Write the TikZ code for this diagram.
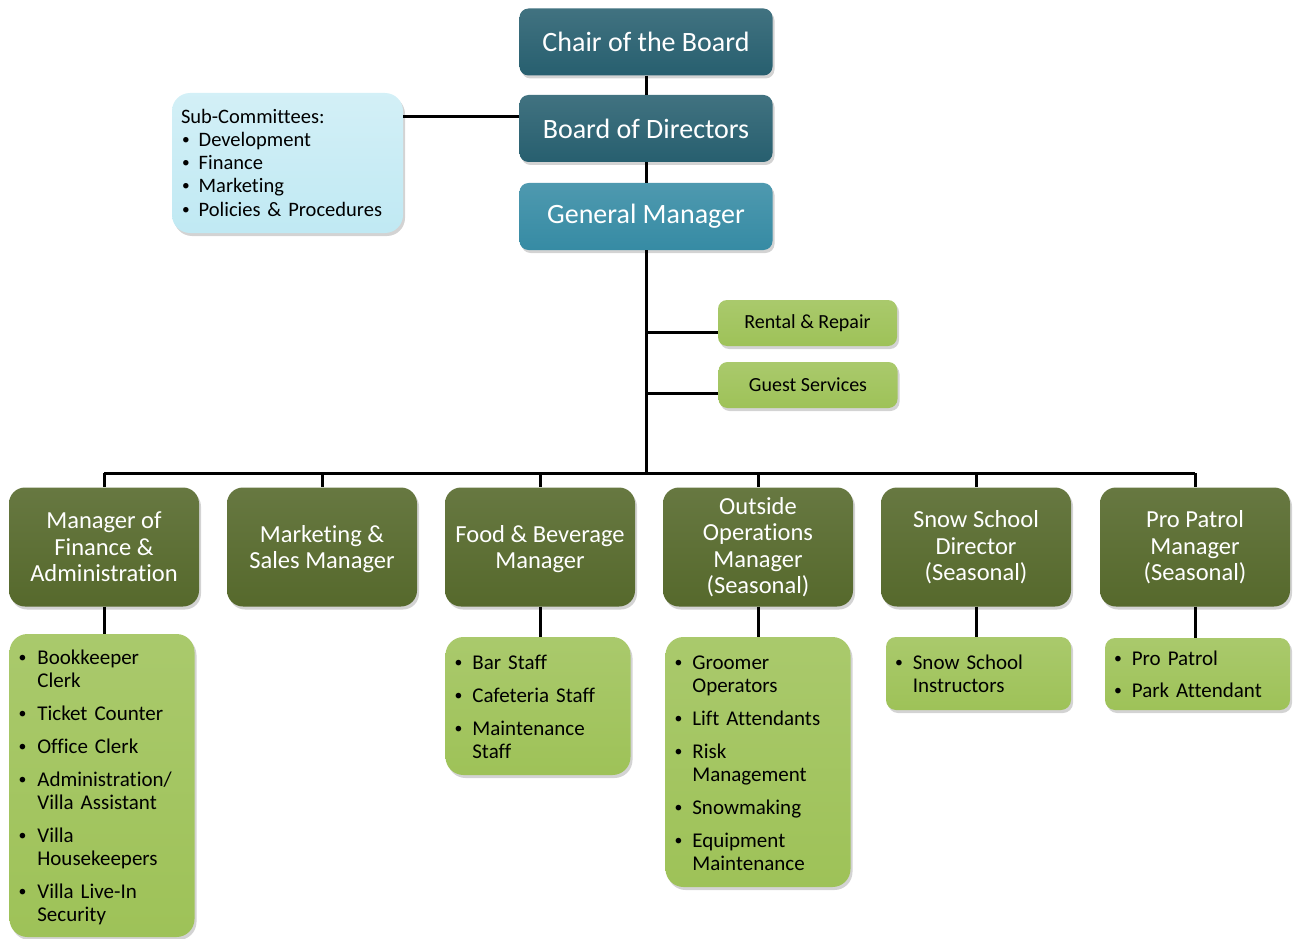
\documentclass[tikz,border=0pt]{standalone}
\usepackage{fontspec}
\setmainfont{Carlito}[Ligatures=NoCommon]
\usetikzlibrary{shadows}

\definecolor{boardteal}{RGB}{39,95,111}
\definecolor{gmteal}{RGB}{54,139,164}
\definecolor{skyfill}{RGB}{192,233,243}
\definecolor{olive}{RGB}{86,105,44}
\definecolor{lime}{RGB}{158,194,88}

\newcommand{\blt}{\raisebox{0.1em}{\scalebox{0.75}{\textbullet}}}

\begin{document}
\begin{tikzpicture}[%
      x=1pt, y=-1pt,
      wire/.style={line width=3pt},
      shade/.style={drop shadow={opacity=0.35,shadow xshift=2pt,shadow yshift=-3pt}},
      topbox/.style={shade, rounded corners=9pt, minimum width=253pt, minimum height=67pt,
        inner sep=2pt, align=center, text=white, font=\fontsize{28}{32}\selectfont},
      mgrbox/.style={shade, rounded corners=16pt, minimum width=190pt, minimum height=119pt,
        inner sep=2pt, align=center, text=white, font=\fontsize{24.5}{26.5}\selectfont,
        top color=olive!90!white, bottom color=olive},
      listbox/.style={shade, rounded corners=18pt, minimum width=185pt, inner xsep=9pt,
        text width=167pt, align=left, font=\fontsize{21}{23}\selectfont,
        top color=lime!88!white, bottom color=lime},
      sidebox/.style={shade, rounded corners=9pt, minimum width=179pt, minimum height=46pt,
        inner sep=2pt, align=center, font=\fontsize{20}{24}\selectfont,
        top color=lime!88!white, bottom color=lime},
      ]
      \useasboundingbox (0,0) rectangle (1294,939);

      \node[topbox, top color=boardteal!88!white, bottom color=boardteal] (chair) at (646,42) {Chair of the Board};
      \node[topbox, top color=boardteal!88!white, bottom color=boardteal] (board) at (646,128.5) {Board of Directors};
      \node[topbox, top color=gmteal!88!white, bottom color=gmteal] (gm) at (646,216.5) {General Manager};

      \node[shade, rounded corners=18pt, minimum width=231pt, minimum height=140pt, inner xsep=9pt,
        text width=213pt, align=left, top color=skyfill!70!white, bottom color=skyfill,
        font=\fontsize{20.5}{23.3}\selectfont] (subcom) at (287.5,163) {%
        \raisebox{-2pt}[\height][\depth]{\begin{tabular}{@{}l@{\hspace{9pt}}l@{}}
        \multicolumn{2}{@{}l@{}}{Sub-Committees:}\\
        \hspace{1pt}\blt & Development\\
        \hspace{1pt}\blt & Finance\\
        \hspace{1pt}\blt & Marketing\\
        \hspace{1pt}\blt & Policies \& Procedures
        \end{tabular}}};

      \node[sidebox] (rental) at (807.5,323) {Rental \& Repair};
      \node[sidebox] (guest) at (808,385) {Guest Services};

      \node[mgrbox] (fin) at (104,547) {Manager of\\Finance \&\\Administration};
      \node[mgrbox] (mkt) at (322,547) {\raisebox{-3pt}[\height][\depth]{\begin{tabular}{@{}c@{}}Marketing \&\\Sales Manager\end{tabular}}};
      \node[mgrbox] (fnb) at (540,547) {\raisebox{-3pt}[\height][\depth]{\begin{tabular}{@{}c@{}}Food \& Beverage\\Manager\end{tabular}}};
      \node[mgrbox] (ops) at (758,547) {Outside\\Operations\\Manager\\(Seasonal)};
      \node[mgrbox] (snow) at (976,547) {\raisebox{-2pt}[\height][\depth]{\begin{tabular}{@{}c@{}}Snow School\\Director\\(Seasonal)\end{tabular}}};
      \node[mgrbox] (patrol) at (1195,547) {\raisebox{-2pt}[\height][\depth]{\begin{tabular}{@{}c@{}}Pro Patrol\\Manager\\(Seasonal)\end{tabular}}};

      \node[listbox, minimum height=303pt] (finlist) at (102,785.5) {%
        \raisebox{-3pt}[\height][\depth]{\begin{tabular}{@{}l@{\hspace{11pt}}l@{}}
        \blt & Bookkeeper\\ & Clerk\\[10pt]
        \blt & Ticket Counter\\[10pt]
        \blt & Office Clerk\\[10pt]
        \blt & Administration/\\ & Villa Assistant\\[10pt]
        \blt & Villa\\ & Housekeepers\\[10pt]
        \blt & Villa Live-In\\ & Security
        \end{tabular}}};
      \node[listbox, minimum height=138pt] (fnblist) at (538,706) {%
        \raisebox{-3pt}[\height][\depth]{\begin{tabular}{@{}l@{\hspace{10pt}}l@{}}
        \blt & Bar Staff\\[10pt]
        \blt & Cafeteria Staff\\[10pt]
        \blt & Maintenance\\ & Staff
        \end{tabular}}};
      \node[listbox, minimum height=250pt] (opslist) at (758,762) {%
        \raisebox{-3pt}[\height][\depth]{\begin{tabular}{@{}l@{\hspace{10pt}}l@{}}
        \blt & Groomer\\ & Operators\\[10pt]
        \blt & Lift Attendants\\[10pt]
        \blt & Risk\\ & Management\\[10pt]
        \blt & Snowmaking\\[10pt]
        \blt & Equipment\\ & Maintenance
        \end{tabular}}};
      \node[listbox, minimum height=73pt, rounded corners=10pt] (snowlist) at (978.5,673.5) {%
        \raisebox{-3pt}[\height][\depth]{\begin{tabular}{@{}l@{\hspace{10pt}}l@{}}
        \blt & Snow School\\ & Instructors
        \end{tabular}}};
      \node[listbox, minimum height=72pt, rounded corners=10pt] (patrollist) at (1197.5,674) {%
        \raisebox{-3pt}[\height][\depth]{\begin{tabular}{@{}l@{\hspace{10pt}}l@{}}
        \blt & Pro Patrol\\[9pt]
        \blt & Park Attendant
        \end{tabular}}};

      \coordinate (bus) at (646,473);

      \draw[wire] (chair.south) -- (board.north);
      \draw[wire] (board.south) -- (gm.north);
      \draw[wire] ([yshift=12pt]board.west) -- ([yshift=12pt]board.west -| subcom.east);
      \draw[wire] (gm.south) -- (gm.south |- bus);
      \draw[wire] ([yshift=-9pt]rental.west) -- ([yshift=-9pt]rental.west -| gm.south);
      \draw[wire] ([yshift=-8pt]guest.west) -- ([yshift=-8pt]guest.west -| gm.south);

      \draw[wire] (bus -| fin.north) -- (bus -| patrol.north);
      \draw[wire] (bus -| fin.north) -- (fin.north);
      \draw[wire] (bus -| mkt.north) -- (mkt.north);
      \draw[wire] (bus -| fnb.north) -- (fnb.north);
      \draw[wire] (bus -| ops.north) -- (ops.north);
      \draw[wire] (bus -| snow.north) -- (snow.north);
      \draw[wire] (bus -| patrol.north) -- (patrol.north);

      \draw[wire] (fin.south) -- (fin.south |- finlist.north);
      \draw[wire] (fnb.south) -- (fnb.south |- fnblist.north);
      \draw[wire] (ops.south) -- (ops.south |- opslist.north);
      \draw[wire] (snow.south) -- (snow.south |- snowlist.north);
      \draw[wire] (patrol.south) -- (patrol.south |- patrollist.north);
      \end{tikzpicture}
\end{document}
